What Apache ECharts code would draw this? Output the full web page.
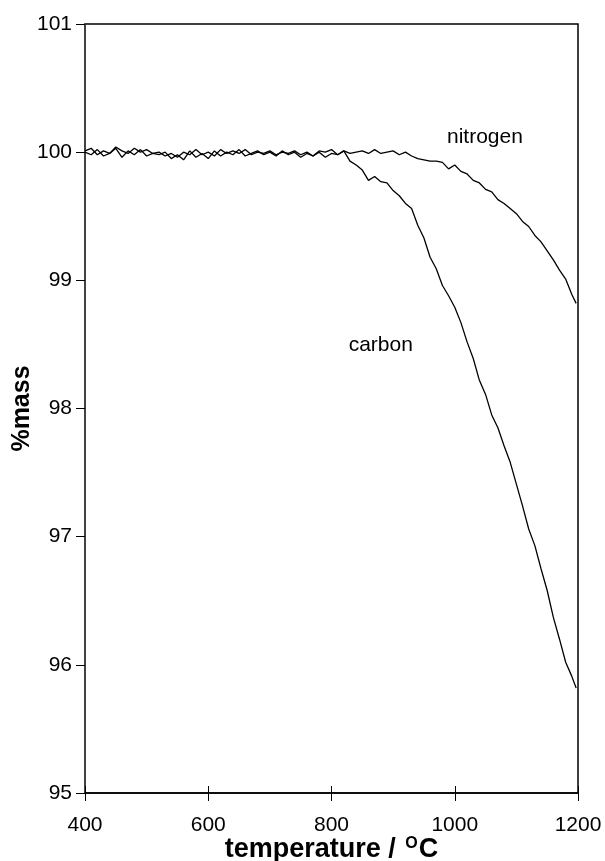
<!DOCTYPE html>
<html>
<head>
<meta charset="utf-8">
<script src="https://cdn.jsdelivr.net/npm/echarts@6/dist/echarts.min.js"></script>
<style>
  html, body { margin: 0; padding: 0; background: #fff; }
  #chart { width: 605px; height: 861px; }
</style>
</head>
<body>
<div id="chart"></div>
<script>
// temperature (°C) readings, step 10
var temps = [400,410,420,430,440,450,460,470,480,490,500,510,520,530,540,550,560,570,580,590,
    600,610,620,630,640,650,660,670,680,690,700,710,720,730,740,750,760,770,780,790,
    800,810,820,830,840,850,860,870,880,890,900,910,920,930,940,950,960,970,980,990,
    1000,1010,1020,1030,1040,1050,1060,1070,1080,1090,1100,1110,1120,1130,1140,1150,1160,1170,1180,1190,1197];

// %mass under carbon
var carbonMass = [100.00,99.98,100.02,99.97,99.99,100.03,99.96,100.01,99.98,100.02,
    99.97,99.99,99.98,100.00,99.95,99.98,99.94,100.01,99.96,99.99,
    99.95,100.01,99.97,100.00,99.98,100.02,99.97,99.99,100.01,99.98,
    100.00,99.97,100.01,99.98,100.00,99.96,99.99,99.97,100.00,99.96,
    99.99,99.98,100.01,99.93,99.90,99.86,99.78,99.81,99.77,99.76,
    99.70,99.66,99.60,99.56,99.43,99.33,99.18,99.09,98.96,98.88,
    98.79,98.67,98.52,98.39,98.22,98.11,97.95,97.85,97.71,97.58,
    97.41,97.24,97.06,96.93,96.75,96.58,96.37,96.20,96.02,95.91,95.82];

// %mass under nitrogen
var nitrogenMass = [100.01,100.03,99.98,100.01,99.99,100.04,100.01,99.99,100.03,100.00,
    100.02,99.99,100.00,99.97,99.99,99.96,100.00,99.98,100.02,99.98,
    100.00,99.97,100.02,99.99,100.01,99.99,100.02,99.98,100.00,99.99,
    100.01,99.98,100.00,99.99,100.01,99.98,100.00,99.97,100.01,100.00,
    100.02,99.98,100.01,99.99,100.00,100.01,99.99,100.02,99.99,100.00,
    100.01,99.98,100.00,99.97,99.95,99.94,99.93,99.93,99.92,99.87,
    99.90,99.85,99.83,99.78,99.76,99.71,99.69,99.63,99.60,99.56,
    99.52,99.46,99.42,99.35,99.30,99.23,99.16,99.08,99.01,98.89,98.82];

var xTicks = [400, 600, 800, 1000, 1200];
var yTicks = [95, 96, 97, 98, 99, 100, 101];

// label anchors [temperature, %mass]
var nitrogenLabelAt = [1049, 100.12];
var carbonLabelAt = [880, 98.49];

function pairs(xs, ys) {
    var out = [];
    for (var i = 0; i < xs.length; i++) {
        out.push([xs[i], ys[i]]);
    }
    return out;
}

var FONT = 'Liberation Sans, Arial, sans-serif';

var chart = echarts.init(document.getElementById('chart'));

var option = {
    animation: false,
    backgroundColor: '#fff',
    grid: {
        left: 85, right: 27, top: 24, bottom: 68,
        outerBoundsMode: 'none',
        containLabel: false,
        show: true,
        borderColor: '#000',
        borderWidth: 1.5
    },
    xAxis: [{
        type: 'value',
        min: xTicks[0], max: xTicks[xTicks.length - 1], interval: 200,
        position: 'bottom',
        axisLine: { lineStyle: { color: '#000', width: 1.5 } },
        axisTick: { inside: false, length: 8, lineStyle: { color: '#000', width: 1 } },
        axisLabel: {
            margin: 22, fontSize: 21, color: '#000', fontFamily: FONT,
            formatter: function (v) { return String(v); }
        },
        splitLine: { show: false },
        name: '{t|temperature / }{sup|O}{t|C}',
        nameLocation: 'middle',
        nameMoveOverlap: false,
        nameGap: 43,
        nameTextStyle: {
            fontFamily: FONT,
            rich: {
                t: { fontSize: 27, fontWeight: 'bold', color: '#000', fontFamily: FONT, lineHeight: 28 },
                sup: { fontSize: 16, fontWeight: 'bold', color: '#000', fontFamily: FONT, verticalAlign: 'top', lineHeight: 28, padding: [0, 1, 8, 2] }
            }
        }
    }, {
        // second copy, inward ticks only, so ticks cross the axis
        type: 'value',
        min: xTicks[0], max: xTicks[xTicks.length - 1], interval: 200,
        position: 'bottom',
        axisLine: { show: false },
        axisTick: { inside: true, length: 7, lineStyle: { color: '#000', width: 1 } },
        axisLabel: { show: false },
        splitLine: { show: false }
    }],
    yAxis: {
        type: 'value',
        min: yTicks[0], max: yTicks[yTicks.length - 1], interval: 1,
        axisLine: { show: true, lineStyle: { color: '#444', width: 1.5 } },
        axisTick: { inside: false, length: 9, lineStyle: { color: '#000', width: 1 } },
        axisLabel: { margin: 13, fontSize: 21, color: '#000', fontFamily: FONT },
        splitLine: { show: false },
        name: '%mass',
        nameLocation: 'middle',
        nameMoveOverlap: false,
        nameGap: 50,
        nameRotate: 90,
        nameTextStyle: { fontSize: 25, fontWeight: 'bold', color: '#000', fontFamily: FONT }
    },
    series: [{
        name: 'nitrogen',
        type: 'line',
        data: pairs(temps, nitrogenMass),
        showSymbol: false,
        lineStyle: { color: '#000', width: 1.3 },
        markPoint: {
            symbol: 'circle',
            symbolSize: 0,
            data: [{ coord: nitrogenLabelAt }],
            label: { show: true, position: 'inside', formatter: 'nitrogen', fontSize: 21, color: '#000', fontFamily: FONT }
        }
    }, {
        name: 'carbon',
        type: 'line',
        data: pairs(temps, carbonMass),
        showSymbol: false,
        lineStyle: { color: '#000', width: 1.3 },
        markPoint: {
            symbol: 'circle',
            symbolSize: 0,
            data: [{ coord: carbonLabelAt }],
            label: { show: true, position: 'inside', formatter: 'carbon', fontSize: 21, color: '#000', fontFamily: FONT }
        }
    }]
};

chart.setOption(option);
</script>
</body>
</html>
